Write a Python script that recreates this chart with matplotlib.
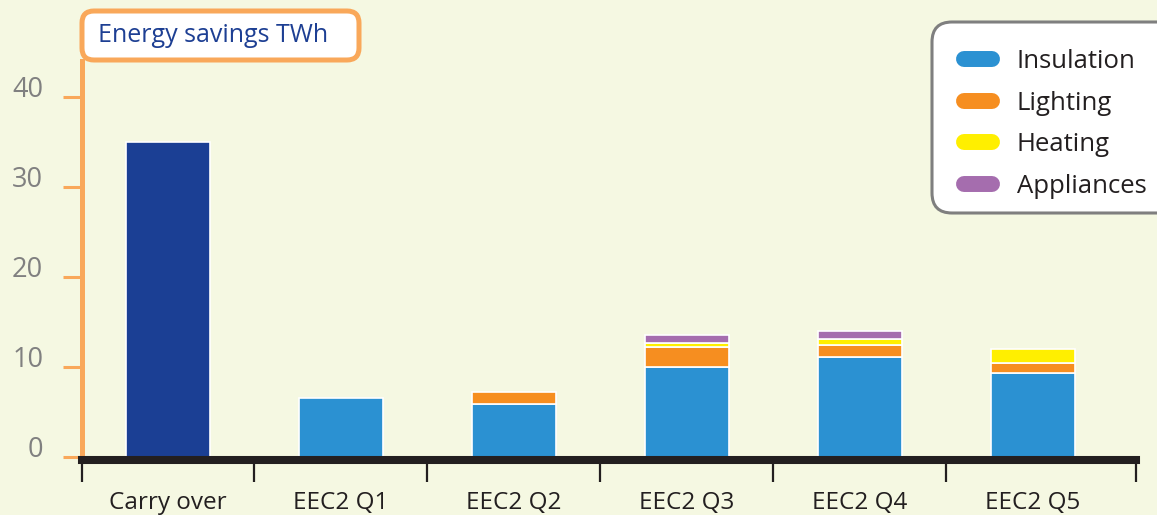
import numpy as np
import matplotlib
matplotlib.use("Agg")
import matplotlib.pyplot as plt
from matplotlib.patches import FancyBboxPatch
from matplotlib.lines import Line2D
from matplotlib.transforms import IdentityTransform

categories = ["Carry over", "EEC2 Q1", "EEC2 Q2", "EEC2 Q3", "EEC2 Q4", "EEC2 Q5"]
carry_over = [35.0, 0, 0, 0, 0, 0]
insulation = [0, 6.6, 5.9, 10.0, 11.15, 9.3]
lighting = [0, 0, 1.3, 2.2, 1.35, 1.2]
heating = [0, 0, 0, 0.5, 0.6, 1.55]
appliances = [0, 0, 0, 0.85, 0.9, 0]
yticks = [0, 10, 20, 30, 40]

series = [("Insulation", insulation, "#2B91D2"),
          ("Lighting", lighting, "#F68E20"),
          ("Heating", heating, "#FFEF00"),
          ("Appliances", appliances, "#A56DAE")]

BG = "#F5F8E2"
ORANGE = "#F9A85A"
DARK = "#231F20"
W, H = 1157, 515

plt.rcParams["font.family"] = ["Open Sans", "DejaVu Sans"]

fig = plt.figure(figsize=(W / 100, H / 100), dpi=100, facecolor=BG)
ax = fig.add_axes([82 / W, (H - 460) / H, (1136 - 82) / W, (460 - 61) / H])
ax.set_facecolor(BG)

x = np.arange(len(categories))
bw = 0.486
ax.bar(x, carry_over, width=bw, color="#1B3F94", edgecolor="white", linewidth=1.2, zorder=2)
bottom = np.zeros(len(categories))
for name, vals, col in series:
    vals = np.array(vals, dtype=float)
    m = vals > 0
    ax.bar(x[m], vals[m], width=bw, bottom=bottom[m], color=col,
           edgecolor="white", linewidth=1.2, zorder=2)
    bottom += vals

ax.set_xlim(-0.497, 5.596)
ax.set_ylim(-0.33, 44.0)

for s in ["top", "right"]:
    ax.spines[s].set_visible(False)
ax.spines["left"].set_color(ORANGE)
ax.spines["left"].set_linewidth(3.6)
ax.spines["bottom"].set_color(DARK)
ax.spines["bottom"].set_linewidth(5.8)
ax.spines["bottom"].set_zorder(3)

# y ticks: orange marks, grey labels sitting on the marks
ax.set_yticks(yticks)
ax.set_yticklabels([])
ax.tick_params(axis="y", length=14, width=2.2, color=ORANGE, direction="out")
for v in yticks:
    ax.annotate(str(v), xy=(0, v), xycoords=("axes fraction", "data"),
                xytext=(-28, 0), textcoords="offset points",
                ha="right", va="baseline", fontsize=19.5, color="#808080")

# x: labels at bars, divider ticks between categories
ax.set_xticks(x)
ax.set_xticklabels(categories, fontsize=17.5, color=DARK)
ax.tick_params(axis="x", which="major", length=0, pad=22)
ax.set_xticks([-0.497, 0.5, 1.5, 2.5, 3.5, 4.5, 5.596], minor=True)
ax.tick_params(axis="x", which="minor", length=16, width=1.6, color=DARK, direction="out")

# title box
tb = FancyBboxPatch((82, H - 60), 277, 49, boxstyle="round,pad=0,rounding_size=12",
                    transform=IdentityTransform(), facecolor="white",
                    edgecolor=ORANGE, linewidth=3.6, zorder=5)
fig.patches.append(tb)
fig.text(98 / W, 1 - 42 / H, "Energy savings TWh", fontsize=18, color="#1D3F93",
         ha="left", va="baseline", zorder=6)

# legend frame drawn by hand, legend itself without frame
lf = FancyBboxPatch((932, H - 213), 250, 191, boxstyle="round,pad=0,rounding_size=20",
                    transform=IdentityTransform(), facecolor="white",
                    edgecolor="#7F7F7F", linewidth=2.2, zorder=5, clip_on=False)
ax.add_patch(lf)
handles = [Line2D([], [], color=c, lw=11.5, solid_capstyle="round") for _, _, c in series]
leg = ax.legend(handles, [n for n, _, _ in series], loc="upper left",
                bbox_to_anchor=(964 / W, 1 - 49 / H), bbox_transform=fig.transFigure,
                borderaxespad=0, borderpad=0, fontsize=18.5, handlelength=1.09,
                handletextpad=0.97, labelspacing=0.65, frameon=False)
leg.set_zorder(6)
for t in leg.get_texts():
    t.set_color(DARK)

fig.savefig("out.png", dpi=100, facecolor=BG)
